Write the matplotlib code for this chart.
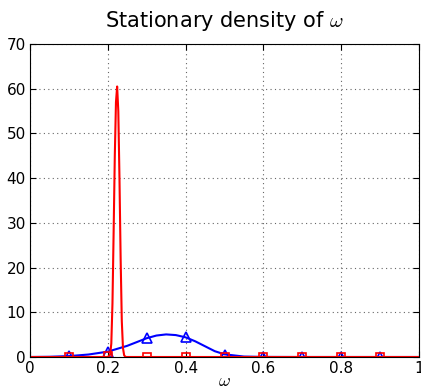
import matplotlib
matplotlib.use("Agg")
import matplotlib.pyplot as plt
import numpy as np

# Blue curve (smooth density) sampled values
blue_x = [0.0, 0.05, 0.1, 0.15, 0.2, 0.25, 0.3, 0.325, 0.35, 0.375, 0.4, 0.425, 0.45, 0.475, 0.5, 0.55, 0.6, 0.7, 0.8, 0.9, 1.0]
blue_y = [0.0, 0.05, 0.2, 0.55, 1.2, 2.5, 4.2, 4.8, 5.05, 4.9, 4.4, 3.5, 2.4, 1.3, 0.6, 0.1, 0.02, 0.0, 0.0, 0.0, 0.0]
# Blue markers
blue_mx = [0.1, 0.2, 0.3, 0.4, 0.5, 0.6, 0.7, 0.8, 0.9]
blue_my = [0.2, 1.2, 4.3, 4.4, 0.5, 0.02, 0.0, 0.0, 0.0]

# Red curve (sharp spike)
red_x = [0.0, 0.1, 0.2, 0.206, 0.209, 0.212, 0.215, 0.218, 0.221, 0.224, 0.227, 0.230, 0.233, 0.236, 0.239, 0.242, 0.245, 0.248, 0.3, 0.5, 1.0]
red_y = [0.0, 0.0, 0.0, 0.5, 3.0, 12.0, 28.0, 45.0, 57.0, 60.5, 55.0, 40.0, 22.0, 8.0, 2.0, 0.4, 0.05, 0.0, 0.0, 0.0, 0.0]
red_mx = [0.1, 0.2, 0.3, 0.4, 0.5, 0.6, 0.7, 0.8, 0.9]
red_my = [0.0, 0.2, 0.0, 0.0, 0.0, 0.0, 0.0, 0.0, 0.0]

xticks = [0, 0.2, 0.4, 0.6, 0.8, 1]
xticklabels = ["0", "0.2", "0.4", "0.6", "0.8", "1"]
yticks = [0, 10, 20, 30, 40, 50, 60, 70]

plt.rcParams['mathtext.fontset'] = 'cm'
plt.rcParams['font.family'] = ['DejaVu Sans']

fig = plt.figure(figsize=(4.21, 3.92), dpi=100)
ax = fig.add_axes([30/421, 35/392, 389/421, 313/392])

ax.plot(blue_x, blue_y, color='blue', lw=1.5)
ax.plot(blue_mx, blue_my, linestyle='none', marker='^', ms=7, mfc='none', mec='blue', mew=1.2)
ax.plot(red_x, red_y, color='red', lw=1.5)
ax.plot(red_mx, red_my, linestyle='none', marker='s', ms=5.5, mfc='none', mec='red', mew=1.2)

ax.set_xlim(0, 1)
ax.set_ylim(0, 70)
ax.set_xticks(xticks)
ax.set_xticklabels(xticklabels)
ax.set_yticks(yticks)
ax.grid(True, linestyle=(0, (1, 3)), color='#666666', lw=0.8)
ax.tick_params(direction='in', top=True, right=True, labelsize=11, length=4, pad=3)
for s in ax.spines.values():
    s.set_linewidth(0.8)
ax.set_title(r"Stationary density of $\omega$", fontsize=15, pad=12)
ax.set_xlabel(r"$\omega$", fontsize=13, labelpad=-3)

fig.savefig("out.png", dpi=100)
